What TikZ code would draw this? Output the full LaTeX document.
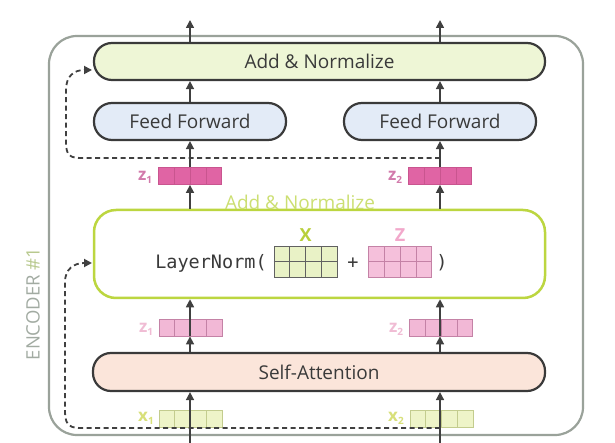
\documentclass[tikz,border=0pt]{standalone}
\usepackage{fontspec}
\setmainfont{Open Sans}
\setmonofont{DejaVu Sans Mono}
\usetikzlibrary{arrows.meta,calc}
\definecolor{edge}{HTML}{3A3A3A}
\definecolor{arrc}{HTML}{404040}
\definecolor{txt}{HTML}{3A3A3A}
\definecolor{encc}{HTML}{9AA29A}
\definecolor{enctxt}{HTML}{A2ABA2}
\definecolor{encnum}{HTML}{B8C98E}
\definecolor{anfill}{HTML}{EEF6D6}
\definecolor{fffill}{HTML}{E3EBF7}
\definecolor{safill}{HTML}{FBE5DA}
\definecolor{lnedge}{HTML}{BCD640}
\definecolor{anlab}{HTML}{CCDF72}
\definecolor{xlab}{HTML}{B8CF3A}
\definecolor{zlab}{HTML}{F2A8CB}
\definecolor{ztfill}{HTML}{E064A4}
\definecolor{ztline}{HTML}{C9558F}
\definecolor{ztlab}{HTML}{D27AAB}
\definecolor{zmfill}{HTML}{F2B8D6}
\definecolor{zmline}{HTML}{C482A6}
\definecolor{zmlab}{HTML}{F0BCD4}
\definecolor{xfill}{HTML}{EEF4C8}
\definecolor{xline}{HTML}{C3CC8E}
\definecolor{xvlab}{HTML}{D8E07A}
\definecolor{mxfill}{HTML}{E9F2C6}
\definecolor{mzfill}{HTML}{F5C0DB}
\begin{document}
\begin{tikzpicture}[x=1pt,y=-1pt,
  pill/.style={draw=edge, line width=2.2pt, rounded corners=18pt, minimum height=37pt,
    inner sep=0pt, font=\fontsize{19}{22}\selectfont, text=txt},
  arr/.style={draw=arrc, line width=1.6pt, -{Triangle[length=8pt,width=8pt]}},
  dsh/.style={draw=arrc, line width=1.8pt, dash pattern=on 5pt off 3.5pt,
    -{Triangle[length=8pt,width=8pt]}},
  vecbox/.style={rectangle, minimum width=63pt, minimum height=17pt, inner sep=0pt, line width=0.8pt},
  matbox/.style={rectangle, minimum width=63pt, minimum height=31pt, inner sep=0pt, line width=0.9pt},
  smlab/.style={font=\bfseries\fontsize{17}{18}\selectfont, inner sep=0pt},
  mono/.style={font=\ttfamily\fontsize{18.5}{22}\selectfont, text=txt, inner sep=0pt}
]
\newcommand{\subn}[1]{\raisebox{-0.35ex}{\fontsize{10}{11}\selectfont #1}}
\useasboundingbox (0,0) rectangle (615,443);
% encoder frame
\draw[draw=encc, line width=2.2pt, fill=white, rounded corners=28pt] (49,36) rectangle (583,435);
\node[rotate=90, font=\fontsize{18.5}{20}\selectfont, text=enctxt] (enc) at (33,304) {ENCODER \textcolor{encnum}{\#1}};

% main blocks
\node[pill, fill=anfill, minimum width=451pt] (an) at (319.5,61.5) {Add \& Normalize};
\node[pill, fill=fffill, minimum width=192pt] (ff1) at (190,121.5) {Feed Forward};
\node[pill, fill=fffill, minimum width=192pt] (ff2) at (440,121.5) {Feed Forward};
\node[draw=lnedge, line width=2.5pt, rounded corners=22pt, minimum width=451pt, minimum height=88pt, fill=white] (ln) at (319.5,254) {};
\node[pill, fill=safill, minimum width=452pt, minimum height=38pt] (sa) at (319,372) {Self-Attention};

\node[font=\fontsize{19}{22}\selectfont, text=anlab] (anl) at (300,202) {Add \& Normalize};

% top z vectors
\node[vecbox, draw=ztline, fill=ztfill] (zt1) at (190,176) {};
\node[vecbox, draw=ztline, fill=ztfill] (zt2) at (440,176) {};
\node[smlab, text=ztlab] (lzt1) at (145,177) {z\subn{1}};
\node[smlab, text=ztlab] (lzt2) at (395,177) {z\subn{2}};

% middle z vectors
\node[vecbox, draw=zmline, fill=zmfill] (zm1) at (190.5,327.5) {};
\node[vecbox, draw=zmline, fill=zmfill] (zm2) at (441,327.5) {};
\node[smlab, text=zmlab] (lzm1) at (146,329) {z\subn{1}};
\node[smlab, text=zmlab] (lzm2) at (396,329) {z\subn{2}};

% input x vectors
\node[vecbox, draw=xline, fill=xfill] (x1) at (190.5,418.5) {};
\node[vecbox, draw=xline, fill=xfill] (x2) at (441.5,418.5) {};
\node[smlab, text=xvlab] (lx1) at (146,418) {x\subn{1}};
\node[smlab, text=xvlab] (lx2) at (396,418) {x\subn{2}};

% cell divisions of the vectors
\foreach \v/\c in {zt1/ztline,zt2/ztline,zm1/zmline,zm2/zmline,x1/xline,x2/xline}{
  \foreach \i in {1,2,3}{
    \draw[draw=\c, line width=0.8pt] ($(\v.south west)!\i/4!(\v.south east)$) -- ($(\v.north west)!\i/4!(\v.north east)$);
  }
}

% LayerNorm content
\node[mono] (lnt) at (211,263) {LayerNorm(};
\node[matbox, draw=edge!80, fill=mxfill] (mx) at (305.5,261.5) {};
\node[mono] (plus) at (353,263) {+};
\node[matbox, draw=zmline, fill=mzfill] (mz) at (400,261.5) {};
\node[mono] (rpar) at (442,263) {)};
\node[font=\bfseries\fontsize{18}{20}\selectfont, text=xlab] (lX) at (305.5,235) {X};
\node[font=\bfseries\fontsize{18}{20}\selectfont, text=zlab] (lZ) at (400,235) {Z};
\foreach \m/\c in {mx/edge!80,mz/zmline}{
  \foreach \i in {1,2,3}{
    \draw[draw=\c, line width=0.9pt] ($(\m.south west)!\i/4!(\m.south east)$) -- ($(\m.north west)!\i/4!(\m.north east)$);
  }
  \draw[draw=\c, line width=0.9pt] (\m.west) -- (\m.east);
}

% coordinates for free ends
\coordinate (o1) at (190,20);
\coordinate (o2) at (440,20);
\coordinate (i1) at (190,446);
\coordinate (i2) at (440,446);
\coordinate (dts) at (440,158);
\coordinate (dte) at (92,70);
\coordinate (dbs) at (440,428);
\coordinate (dbe) at (92,263);

% arrows
\draw[arr] (an.north -| o1) -- (o1);
\draw[arr] (an.north -| o2) -- (o2);
\draw[arr] (ff1.north) -- (ff1.north |- an.south);
\draw[arr] (ff2.north) -- (ff2.north |- an.south);
\draw[arr] (zt1.north) -- (ff1.south);
\draw[arr] (zt2.north) -- (ff2.south);
\draw[arr] (zt1.south |- ln.north) -- (zt1.south);
\draw[arr] (zt2.south |- ln.north) -- (zt2.south);
\draw[arr] (zt1.south |- sa.north) -- (zt1.south |- zm1.south);
\draw[arr] (zt2.south |- sa.north) -- (zt2.south |- zm2.south);
\draw[arr] (zt1.south |- zm1.south) -- (zt1.south |- ln.south);
\draw[arr] (zt2.south |- zm2.south) -- (zt2.south |- ln.south);
\draw[arr] (i1) -- (i1 |- sa.south);
\draw[arr] (i2) -- (i2 |- sa.south);

% residual (dashed) connections
\draw[dsh] (dts) -- (80,158) .. controls (67,158) and (66,152) .. (66,140) -- (66,90) .. controls (66,76) and (74,70) .. (dte);
\draw[dsh] (dbs) -- (80,428) .. controls (67,428) and (65,422) .. (65,410) -- (65,282) .. controls (65,269) and (74,263) .. (dbe);
\end{tikzpicture}
\end{document}
